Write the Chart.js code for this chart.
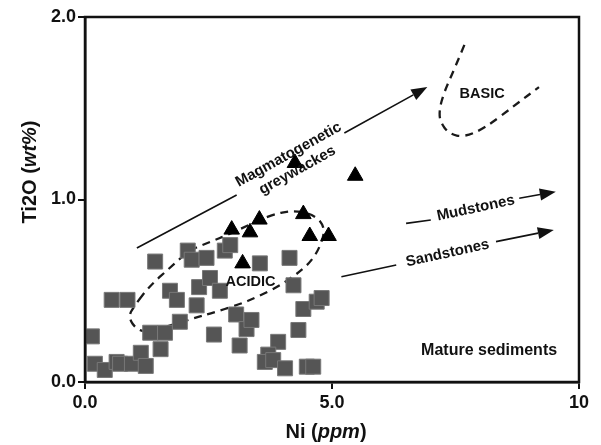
<!DOCTYPE html>
<html lang="en">
<head>
  <meta charset="UTF-8">
  <title>Ni vs Ti2O</title>
  <style>
    body { margin: 0; background: #fff; }
    .chart-box { width: 601px; height: 445px; position: relative; }
  </style>
</head>
<body>
  <div class="chart-box">
    <canvas id="niChart"></canvas>
  </div>

  <script src="https://cdn.jsdelivr.net/npm/chart.js"></script>
  <script>
    // sample values
    const squareNi = [0.14, 0.20, 0.40, 0.64, 0.71, 0.95, 1.13, 1.23, 0.54, 0.86,
                      1.42, 1.32, 1.62, 1.53, 1.92, 1.72, 1.86, 2.08, 2.16, 2.31,
                      2.26, 2.46, 2.53, 2.73, 2.83, 2.94, 3.06, 2.61, 3.13, 3.27,
                      3.37, 3.54, 4.14, 4.22, 3.91, 3.71, 3.64, 3.81, 4.05, 4.49,
                      4.62, 4.32, 4.42, 4.69, 4.79];
    const squareTi = [0.25, 0.10, 0.066, 0.11, 0.10, 0.10, 0.16, 0.088, 0.45, 0.45,
                      0.66, 0.27, 0.27, 0.18, 0.33, 0.50, 0.45, 0.72, 0.67, 0.52,
                      0.42, 0.68, 0.57, 0.50, 0.72, 0.75, 0.37, 0.26, 0.20, 0.29,
                      0.34, 0.65, 0.68, 0.53, 0.22, 0.15, 0.11, 0.12, 0.075, 0.084,
                      0.084, 0.285, 0.40, 0.44, 0.46];
    const triNi = [2.97, 3.53, 3.34, 4.42, 4.55, 4.93, 3.19, 4.25, 5.47];
    const triTi = [0.835, 0.89, 0.82, 0.92, 0.80, 0.80, 0.65, 1.20, 1.13];

    const xTicks = [0, 5, 10];
    const xTickLabels = ['0.0', '5.0', '10'];
    const yTicks = [0, 1, 2];
    const yTickLabels = ['0.0', '1.0', '2.0'];

    // field outlines and trend arrows, in data units
    const acidicOutline = [[1.01, 0.422], [0.87, 0.356], [1.05, 0.285], [1.31, 0.274], [2.22, 0.351],
                           [2.57, 0.378], [3.09, 0.422], [3.49, 0.466], [3.90, 0.521], [4.26, 0.586],
                           [4.55, 0.652], [4.75, 0.734], [4.87, 0.844], [4.65, 0.915], [4.24, 0.942],
                           [3.74, 0.915], [2.93, 0.811], [2.53, 0.767], [2.12, 0.723], [1.76, 0.636],
                           [1.31, 0.526]];
    const basicOutline = [[7.68, 1.847], [7.47, 1.71], [7.27, 1.589], [7.17, 1.49], [7.19, 1.425],
                          [7.37, 1.359], [7.68, 1.342], [8.10, 1.392], [8.71, 1.518], [9.19, 1.616]];
    const magmaArrow = [[1.05, 0.734], [3.07, 1.025], [5.25, 1.364], [6.93, 1.616]];
    const mudArrow = [[6.50, 0.869], [7.00, 0.888], [8.79, 1.007], [9.53, 1.043]];
    const sandArrow = [[5.19, 0.577], [6.30, 0.641], [8.32, 0.769], [9.49, 0.833]];

    const FONT = "'Liberation Sans', Arial, sans-serif";

    function smoothPath(ctx, pts, closed) {
      const mid = (a, b) => [(a[0] + b[0]) / 2, (a[1] + b[1]) / 2];
      ctx.beginPath();
      if (closed) {
        const n = pts.length;
        let m = mid(pts[n - 1], pts[0]);
        ctx.moveTo(m[0], m[1]);
        for (let i = 0; i < n; i++) {
          m = mid(pts[i], pts[(i + 1) % n]);
          ctx.quadraticCurveTo(pts[i][0], pts[i][1], m[0], m[1]);
        }
        ctx.closePath();
      } else {
        ctx.moveTo(pts[0][0], pts[0][1]);
        for (let i = 1; i < pts.length - 1; i++) {
          const m = mid(pts[i], pts[i + 1]);
          ctx.quadraticCurveTo(pts[i][0], pts[i][1], m[0], m[1]);
        }
        const last = pts[pts.length - 1];
        ctx.lineTo(last[0], last[1]);
      }
      ctx.stroke();
    }

    function drawArrow(ctx, p) {
      ctx.lineWidth = 1.6;
      ctx.strokeStyle = '#111';
      ctx.fillStyle = '#111';
      ctx.beginPath();
      ctx.moveTo(p[0][0], p[0][1]);
      ctx.lineTo(p[1][0], p[1][1]);
      const ang = Math.atan2(p[3][1] - p[2][1], p[3][0] - p[2][0]);
      const len = 16, half = 6;
      const bx = p[3][0] - Math.cos(ang) * len, by = p[3][1] - Math.sin(ang) * len;
      ctx.moveTo(p[2][0], p[2][1]);
      ctx.lineTo(bx, by);
      ctx.stroke();
      ctx.beginPath();
      ctx.moveTo(p[3][0], p[3][1]);
      ctx.lineTo(bx - Math.sin(ang) * half, by + Math.cos(ang) * half);
      ctx.lineTo(bx + Math.sin(ang) * half, by - Math.cos(ang) * half);
      ctx.closePath();
      ctx.fill();
    }

    function rotatedText(ctx, text, x, y, ang, size) {
      ctx.save();
      ctx.translate(x, y);
      ctx.rotate(ang);
      ctx.font = 'bold ' + size + 'px ' + FONT;
      ctx.textAlign = 'center';
      ctx.textBaseline = 'middle';
      ctx.fillStyle = '#111';
      ctx.fillText(text, 0, 0);
      ctx.restore();
    }

    function mixedText(ctx, parts, size) {
      let total = 0;
      parts.forEach(p => {
        ctx.font = (p[1] ? 'italic ' : '') + 'bold ' + size + 'px ' + FONT;
        total += ctx.measureText(p[0]).width;
      });
      let x = -total / 2;
      ctx.textAlign = 'left';
      ctx.textBaseline = 'middle';
      ctx.fillStyle = '#111';
      parts.forEach(p => {
        ctx.font = (p[1] ? 'italic ' : '') + 'bold ' + size + 'px ' + FONT;
        ctx.fillText(p[0], x, 0);
        x += ctx.measureText(p[0]).width;
      });
    }

    const overlayPlugin = {
      id: 'overlay',
      beforeDatasetsDraw(chart) {
        const ctx = chart.ctx, xs = chart.scales.x, ys = chart.scales.y;
        const toPx = list => list.map(d => [xs.getPixelForValue(d[0]), ys.getPixelForValue(d[1])]);
        ctx.save();
        ctx.strokeStyle = '#1a1a1a';
        ctx.lineWidth = 2.3;
        ctx.setLineDash([8, 6]);
        smoothPath(ctx, toPx(acidicOutline), true);
        smoothPath(ctx, toPx(basicOutline), false);
        ctx.restore();
      },
      afterDatasetsDraw(chart) {
        const ctx = chart.ctx, xs = chart.scales.x, ys = chart.scales.y;
        const toPx = list => list.map(d => [xs.getPixelForValue(d[0]), ys.getPixelForValue(d[1])]);
        ctx.save();
        const mg = toPx(magmaArrow), md = toPx(mudArrow), sd = toPx(sandArrow);
        [mg, md, sd].forEach(a => drawArrow(ctx, a));
        const angOf = a => Math.atan2(a[3][1] - a[0][1], a[3][0] - a[0][0]);
        const px = (x, y) => [xs.getPixelForValue(x), ys.getPixelForValue(y)];
        let p = px(4.12, 1.245);
        rotatedText(ctx, 'Magmatogenetic', p[0], p[1], angOf(mg), 15);
        p = px(4.30, 1.160);
        rotatedText(ctx, 'greywackes', p[0], p[1], angOf(mg), 15);
        p = px(7.91, 0.952);
        rotatedText(ctx, 'Mudstones', p[0], p[1], angOf(md), 15);
        p = px(7.34, 0.705);
        rotatedText(ctx, 'Sandstones', p[0], p[1], angOf(sd), 15);
        p = px(8.04, 1.578);
        rotatedText(ctx, 'BASIC', p[0], p[1], 0, 14.5);
        p = px(3.35, 0.55);
        rotatedText(ctx, 'ACIDIC', p[0], p[1], 0, 14.5);
        p = px(9.8, 0.17);
        ctx.font = 'bold 16px ' + FONT;
        ctx.textAlign = 'right';
        ctx.textBaseline = 'middle';
        ctx.fillText('Mature sediments', p[0] - 12, p[1]);
        ctx.restore();
      },
      afterDraw(chart) {
        const ctx = chart.ctx, a = chart.chartArea;
        ctx.save();
        ctx.strokeStyle = '#111';
        ctx.lineWidth = 2.5;
        ctx.strokeRect(a.left, a.top, a.right - a.left, a.bottom - a.top);
        // axis titles with italic units
        ctx.translate(30, 172);
        ctx.rotate(-Math.PI / 2);
        mixedText(ctx, [['Ti2O (', false], ['wt%', true], [')', false]], 20);
        ctx.restore();
        ctx.save();
        ctx.translate(326, 432);
        mixedText(ctx, [['Ni (', false], ['ppm', true], [')', false]], 20);
        ctx.restore();
      }
    };

    function toPoints(xsArr, ysArr) {
      return xsArr.map((x, i) => ({ x: x, y: ysArr[i] }));
    }

    const ctx = document.getElementById('niChart').getContext('2d');
    new Chart(ctx, {
      type: 'scatter',
      data: {
        datasets: [
          {
            label: 'triangles',
            data: toPoints(triNi, triTi),
            pointStyle: 'triangle',
            pointRadius: 9,
            backgroundColor: '#000',
            borderColor: '#000',
            borderWidth: 1
          },
          {
            label: 'squares',
            data: toPoints(squareNi, squareTi),
            pointStyle: 'rect',
            pointRadius: 10.6,
            backgroundColor: '#555555',
            borderColor: '#787878',
            borderWidth: 1
          }
        ]
      },
      options: {
        responsive: true,
        maintainAspectRatio: false,
        animation: false,
        layout: { padding: { left: 0, right: 22, top: 17, bottom: 0 } },
        plugins: { legend: { display: false }, tooltip: { enabled: false } },
        scales: {
          x: {
            type: 'linear', min: 0, max: 10,
            afterBuildTicks: s => { s.ticks = xTicks.map(v => ({ value: v })); },
            afterFit: s => { s.height = 63; },
            ticks: {
              callback: (v, i) => xTickLabels[i],
              font: { family: FONT, size: 18, weight: 'bold' },
              color: '#111', padding: 3, maxRotation: 0
            },
            grid: { drawOnChartArea: false, tickLength: 7, color: '#111', lineWidth: 2 },
            border: { color: '#111', width: 2.5 }
          },
          y: {
            type: 'linear', min: 0, max: 2,
            afterBuildTicks: s => { s.ticks = yTicks.map(v => ({ value: v })); },
            afterFit: s => { s.width = 85; },
            ticks: {
              callback: (v, i) => yTickLabels[i],
              font: { family: FONT, size: 18, weight: 'bold' },
              color: '#111', padding: 2
            },
            grid: { drawOnChartArea: false, tickLength: 7, color: '#111', lineWidth: 2 },
            border: { color: '#111', width: 2.5 }
          }
        }
      },
      plugins: [overlayPlugin]
    });
  </script>
</body>
</html>
